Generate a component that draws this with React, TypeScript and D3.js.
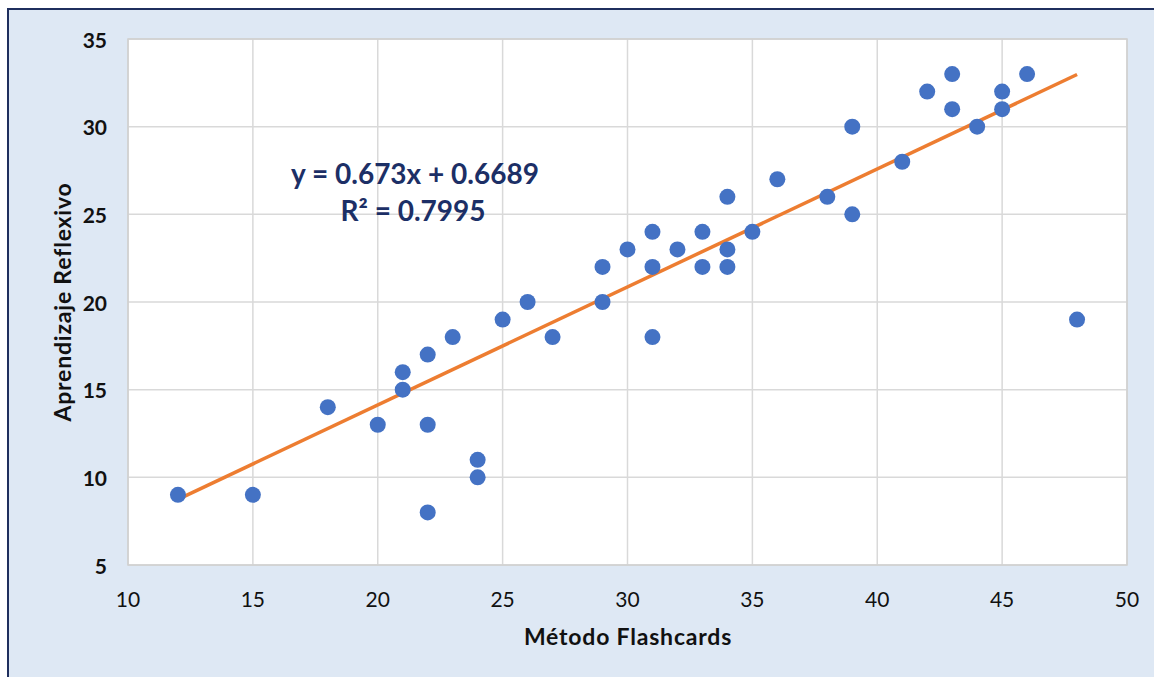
import React from "react";
import * as d3 from "d3";

const xValues = [12, 15, 18, 20, 21, 21, 22, 22, 22, 23, 24, 24, 25, 26, 27, 29, 29, 30, 31, 31, 31, 32, 33, 33, 34, 34, 34, 35, 36, 38, 39, 39, 41, 42, 43, 43, 44, 45, 45, 46, 48];
const yValues = [9, 9, 14, 13, 16, 15, 17, 13, 8, 18, 11, 10, 19, 20, 18, 22, 20, 23, 24, 22, 18, 23, 24, 22, 26, 23, 22, 24, 27, 26, 30, 25, 28, 32, 33, 31, 30, 32, 31, 33, 19];
const xTicks = [10, 15, 20, 25, 30, 35, 40, 45, 50];
const yTicks = [5, 10, 15, 20, 25, 30, 35];
const trendSlope = 0.673;
const trendIntercept = 0.6689;
const equationText = "y = 0.673x + 0.6689";
const r2Text = "R² = 0.7995";
const xTitle = "Método Flashcards";
const yTitle = "Aprendizaje Reflexivo";

const W = 1154;
const H = 677;
const plot = { left: 128, right: 1127, top: 39, bottom: 565 };
const FONT = "Lato, 'Open Sans', sans-serif";

export default function App() {
  const x = d3.scaleLinear().domain([10, 50]).range([plot.left, plot.right]);
  const y = d3.scaleLinear().domain([5, 35]).range([plot.bottom, plot.top]);
  const xMin = d3.min(xValues)!;
  const xMax = d3.max(xValues)!;
  const line = d3.line<number>()
    .x((d) => x(d))
    .y((d) => y(trendSlope * d + trendIntercept));

  return (
    <svg width={W} height={H} style={{ position: "fixed", left: 0, top: 0, display: "block" }} fontFamily={FONT}>
      <rect x={0} y={0} width={W} height={H} fill="#ffffff" />
      <rect x={8} y={9} width={W + 20} height={H + 20} fill="#dee8f4" stroke="#1f2f5e" strokeWidth={2} />
      <rect x={plot.left} y={plot.top} width={plot.right - plot.left} height={plot.bottom - plot.top} fill="#ffffff" />
      {xTicks.map((t) => (
        <line key={"gx" + t} x1={x(t)} x2={x(t)} y1={plot.top} y2={plot.bottom} stroke="#d9d9d9" strokeWidth={1.5} />
      ))}
      {yTicks.map((t) => (
        <line key={"gy" + t} x1={plot.left} x2={plot.right} y1={y(t)} y2={y(t)} stroke="#d9d9d9" strokeWidth={1.5} />
      ))}
      <rect x={plot.left} y={plot.top} width={plot.right - plot.left} height={plot.bottom - plot.top} fill="none" stroke="#d0d0d0" strokeWidth={1.5} />
      {xTicks.map((t) => (
        <text key={"tx" + t} x={x(t)} y={598} textAnchor="middle" dominantBaseline="central" fontSize={21} fill="#111">
          {t}
        </text>
      ))}
      {yTicks.map((t) => (
        <text key={"ty" + t} x={107} y={y(t)} textAnchor="end" dominantBaseline="central" fontSize={21} fontWeight="bold" fill="#111">
          {t}
        </text>
      ))}
      <path d={line([xMin, xMax]) || ""} stroke="#ed7d31" strokeWidth={3.5} fill="none" />
      {xValues.map((xv, i) => (
        <circle key={"p" + i} cx={x(xv)} cy={y(yValues[i])} r={8} fill="#4472c4" />
      ))}
      <text x={415} y={173} textAnchor="middle" dominantBaseline="central" fontSize={28} fontWeight="bold" fill="#1c2f66">
        {equationText}
      </text>
      <text x={413} y={210} textAnchor="middle" dominantBaseline="central" fontSize={28} fontWeight="bold" fill="#1c2f66">
        {r2Text}
      </text>
      <text x={628} y={636} textAnchor="middle" dominantBaseline="central" fontSize={23} fontWeight="bold" letterSpacing={0.8} fill="#111">
        {xTitle}
      </text>
      <text transform={`translate(62,${(plot.top + plot.bottom) / 2}) rotate(-90)`} textAnchor="middle" dominantBaseline="central" fontSize={23} fontWeight="bold" letterSpacing={0.8} fill="#111">
        {yTitle}
      </text>
    </svg>
  );
}
